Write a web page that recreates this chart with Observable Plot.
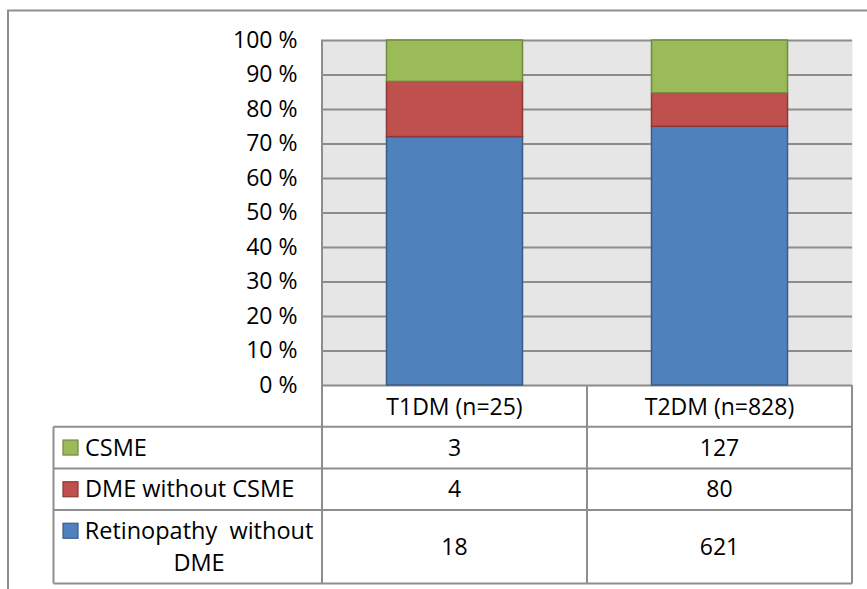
<!DOCTYPE html>
<html>
<head>
<meta charset="utf-8">
<script src="https://cdn.jsdelivr.net/npm/d3@7"></script>
<script src="https://cdn.jsdelivr.net/npm/@observablehq/plot@0.6"></script>
<style>
  html, body { margin: 0; padding: 0; background: #fff; }
  #chart svg { display: block; }
</style>
</head>
<body>
<div id="chart"></div>
<script>
// Patient groups (columns of the data table)
const categories = ["T1DM (n=25)", "T2DM (n=828)"];
// Table rows, top to bottom
const seriesNames = ["CSME", "DME without CSME", "Retinopathy without DME"];
// Counts per group, in the same order as seriesNames
const t1dmCounts = [3, 4, 18];
const t2dmCounts = [127, 80, 621];
// Percent axis ticks
const yTicks = [0, 0.1, 0.2, 0.3, 0.4, 0.5, 0.6, 0.7, 0.8, 0.9, 1];

// Row labels as they wrap in the table
const rowLabelLines = {
  "CSME": ["CSME"],
  "DME without CSME": ["DME without CSME"],
  "Retinopathy without DME": ["Retinopathy  without", "DME"]
};

const fills = {
  "CSME": "#9BBB59",
  "DME without CSME": "#C0504D",
  "Retinopathy without DME": "#4F81BD"
};
const strokes = {
  "CSME": "#71893F",
  "DME without CSME": "#8C3836",
  "Retinopathy without DME": "#385D8A"
};

const countsByGroup = [t1dmCounts, t2dmCounts];
// Stack from the bottom up: retinopathy, DME, CSME
const records = [];
categories.forEach((group, gi) => {
  for (let si = seriesNames.length - 1; si >= 0; si--) {
    records.push({group, series: seriesNames[si], count: countsByGroup[gi][si]});
  }
});

const gridColor = "#8C8C8C";
const font = "'Open Sans', sans-serif";

const chart = Plot.plot({
  width: 867,
  height: 589,
  marginLeft: 321,
  marginRight: 15,
  marginTop: 40,
  marginBottom: 204,
  style: {fontFamily: font, fontSize: "23px", color: "#000", background: "#fff"},
  x: {domain: categories, padding: 0, axis: null},
  y: {domain: [0, 1]},
  color: {type: "identity"},
  marks: [
    Plot.frame({fill: "#E6E6E6", stroke: null}),
    Plot.ruleY(yTicks, {stroke: gridColor, strokeWidth: 2}),
    Plot.barY(records, Plot.stackY({offset: "normalize"}, {
      x: "group",
      y: "count",
      fill: d => fills[d.series],
      stroke: d => strokes[d.series],
      strokeWidth: 1.5,
      insetLeft: 64.5,
      insetRight: 64.5
    })),
    Plot.axisY({
      ticks: yTicks,
      tickFormat: d => `${Math.round(d * 100)} %`,
      tickSize: 0,
      tickPadding: 24,
      fontSize: 23,
      label: null
    })
  ]
});

document.getElementById("chart").appendChild(chart);

// Data table under the plot, aligned to the x band scale
const x = chart.scale("x");
const y = chart.scale("y");
const svg = d3.select(chart);
const g = svg.append("g")
  .attr("font-family", font)
  .attr("text-anchor", "start")
  .attr("fill", "#000");

const lineColor = "#8E8E8E";
const tableLeft = 53.5;
const plotTop = y.apply(1);
const base = y.apply(0);
const colEdges = categories.map(c => x.apply(c));
colEdges.push(x.apply(categories[categories.length - 1]) + x.bandwidth);
const rowHeights = [41.7, 41.7, 41.7, 73.3];
const rowEdges = [base];
rowHeights.forEach(h => rowEdges.push(rowEdges[rowEdges.length - 1] + h));
const tableBottom = rowEdges[rowEdges.length - 1];

// outer chart border (left and top)
g.append("path")
  .attr("d", `M8,589V10.5H867`)
  .attr("fill", "none")
  .attr("stroke", lineColor)
  .attr("stroke-width", 2);

// horizontal table lines
rowEdges.slice(1).forEach(ry => {
  g.append("line")
    .attr("x1", tableLeft).attr("x2", colEdges[colEdges.length - 1])
    .attr("y1", ry).attr("y2", ry)
    .attr("stroke", lineColor).attr("stroke-width", 2);
});
// vertical table lines
colEdges.forEach((cx, i) => {
  g.append("line")
    .attr("x1", cx).attr("x2", cx)
    .attr("y1", i === 0 ? plotTop : base).attr("y2", tableBottom)
    .attr("stroke", lineColor).attr("stroke-width", 2);
});
g.append("line")
  .attr("x1", tableLeft).attr("x2", tableLeft)
  .attr("y1", rowEdges[1]).attr("y2", tableBottom)
  .attr("stroke", lineColor).attr("stroke-width", 2);

// header row: group names
categories.forEach(c => {
  g.append("text")
    .attr("x", x.apply(c) + x.bandwidth / 2)
    .attr("y", (rowEdges[0] + rowEdges[1]) / 2 + 1)
    .attr("dy", "0.35em")
    .attr("text-anchor", "middle")
    .attr("font-size", 23)
    .text(c);
});

// series rows
seriesNames.forEach((s, si) => {
  const top = rowEdges[si + 1];
  const bottom = rowEdges[si + 2];
  const mid = (top + bottom) / 2;
  const lines = rowLabelLines[s];
  const lineH = 32;
  const firstY = mid - (lines.length - 1) * lineH / 2;

  // legend key
  g.append("rect")
    .attr("x", 63).attr("y", firstY - 7.5)
    .attr("width", 15).attr("height", 15)
    .attr("fill", fills[s])
    .attr("stroke", strokes[s]).attr("stroke-width", 1.2);

  const text = g.append("text")
    .attr("font-size", 23.5)
    .style("white-space", "pre");
  lines.forEach((ln, li) => {
    const t = text.append("tspan")
      .attr("y", firstY + li * lineH)
      .attr("dy", "0.35em")
      .text(ln);
    if (lines.length > 1) {
      t.attr("x", 199).attr("text-anchor", "middle");
    } else {
      t.attr("x", 85).attr("text-anchor", "start");
    }
  });

  // counts per group
  categories.forEach((c, gi) => {
    g.append("text")
      .attr("x", x.apply(c) + x.bandwidth / 2)
      .attr("y", mid)
      .attr("dy", "0.35em")
      .attr("text-anchor", "middle")
      .attr("font-size", 23)
      .text(countsByGroup[gi][si]);
  });
});
</script>
</body>
</html>
